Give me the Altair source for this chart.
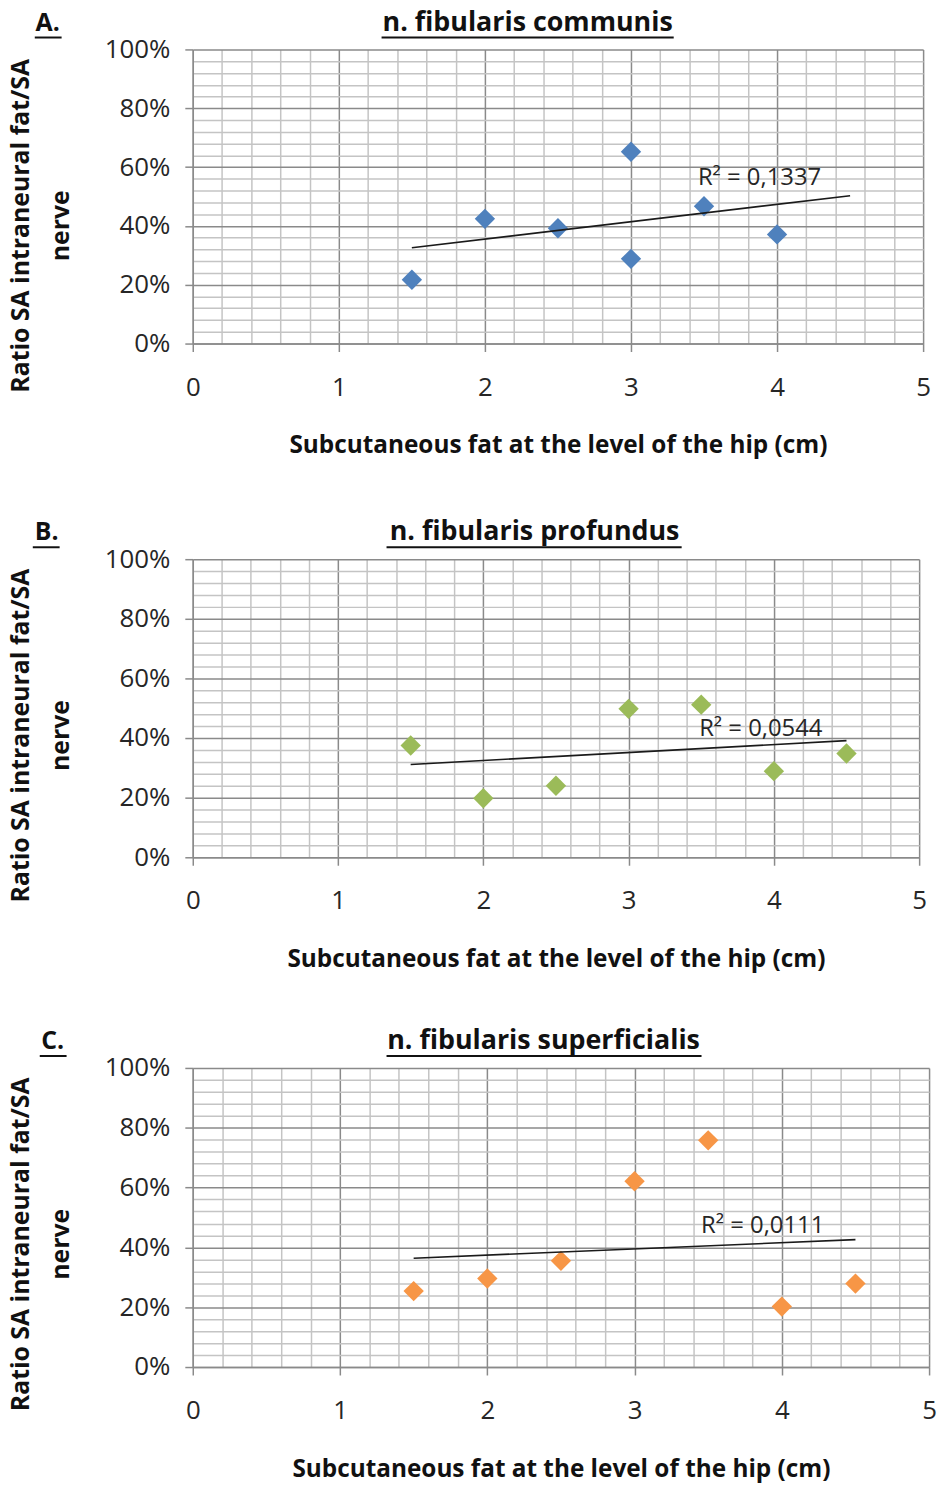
import altair as alt
import pandas as pd

FONT = "Open Sans"

# ---- data ----
titles = ["n. fibularis  communis", "n. fibularis  profundus", "n. fibularis  superficialis"]
letters = ["A.", "B.", "C."]
r2_labels = ["R² = 0,1337", "R² = 0,0544", "R² = 0,0111"]

x_communis = [1.5, 2, 2.5, 3, 3, 3.5, 4]
y_communis = [0.217, 0.424, 0.392, 0.652, 0.288, 0.467, 0.371]

x_profundus = [1.5, 2, 2.5, 3, 3.5, 4, 4.5]
y_profundus = [0.375, 0.198, 0.240, 0.498, 0.512, 0.289, 0.348]

x_superficialis = [1.5, 2, 2.5, 3, 3.5, 4, 4.5]
y_superficialis = [0.254, 0.296, 0.355, 0.621, 0.758, 0.202, 0.279]

colors = ["#4F81BD", "#9BBB59", "#F79646"]

# axis tick / grid positions
x_ticks = [0, 0.2, 0.4, 0.6, 0.8, 1, 1.2, 1.4, 1.6, 1.8, 2, 2.2, 2.4, 2.6, 2.8,
           3, 3.2, 3.4, 3.6, 3.8, 4, 4.2, 4.4, 4.6, 4.8, 5]
y_ticks = [0, 0.04, 0.08, 0.12, 0.16, 0.2, 0.24, 0.28, 0.32, 0.36, 0.4, 0.44, 0.48,
           0.52, 0.56, 0.6, 0.64, 0.68, 0.72, 0.76, 0.8, 0.84, 0.88, 0.92, 0.96, 1.0]

# label anchor positions (data units) for R² annotations
r2_pos = [(3.88, 0.562), (3.91, 0.431), (3.87, 0.473)]

# per-panel layout (pixels, relative to each plot's top-left corner)
widths = [735, 731, 741]
heights = [296, 300, 301]
title_cx = [337, 344, 353]
title_ul = [(190, 484), (195, 492), (195, 512)]
letter_cx = [-146, -147, -141]
letter_ul = [(-159, -132), (-161, -134), (-154, -127)]

X_MAJOR = "abs(datum.value - round(datum.value)) < 0.001"
Y_MAJOR = "abs(datum.value * 5 - round(datum.value * 5)) < 0.001"
MAJOR_COL = "#8a8a8a"
MINOR_COL = "#c4c4c4"
TEXT_COL = "#262626"
TITLE_COL = "#111111"


def panel(i, xs, ys):
    df = pd.DataFrame({"x": xs, "y": ys})
    x_axis = alt.Axis(
        values=x_ticks,
        tickCount=60,
        labelExpr=f"{X_MAJOR} ? format(datum.value, 'd') : ''",
        labelOverlap=False,
        grid=True,
        gridColor={"condition": {"test": X_MAJOR, "value": MAJOR_COL}, "value": MINOR_COL},
        gridWidth=1.5,
        gridOpacity=1,
        tickOpacity={"condition": {"test": X_MAJOR, "value": 1}, "value": 0},
        tickColor=MAJOR_COL,
        tickSize=8,
        tickWidth=1.5,
        domainColor=MAJOR_COL,
        domainWidth=1.5,
        labelFont=FONT,
        labelFontSize=26,
        labelColor=TEXT_COL,
        labelPadding=23,
        labelFlush=False,
        title="Subcutaneous  fat at the level of the  hip (cm)",
        titleFont=FONT,
        titleFontSize=24.5,
        titleFontWeight="bold",
        titleColor=TITLE_COL,
        titlePadding=34,
    )
    y_axis = alt.Axis(
        values=y_ticks,
        tickCount=60,
        labelExpr=f"{Y_MAJOR} ? format(datum.value, '.0%') : ''",
        labelOverlap=False,
        grid=True,
        gridColor={"condition": {"test": Y_MAJOR, "value": MAJOR_COL}, "value": MINOR_COL},
        gridWidth=1.5,
        gridOpacity=1,
        tickOpacity={"condition": {"test": Y_MAJOR, "value": 1}, "value": 0},
        tickColor=MAJOR_COL,
        tickSize=8,
        tickWidth=1.5,
        domainColor=MAJOR_COL,
        domainWidth=1.5,
        labelFont=FONT,
        labelFontSize=26,
        labelColor=TEXT_COL,
        labelPadding=15,
        labelFlush=False,
        title=["Ratio SA intraneural  fat/SA", "nerve"],
        titleFont=FONT,
        titleFontSize=25,
        titleFontWeight="bold",
        titleColor=TITLE_COL,
        titleLineHeight=40,
        titleAngle=-90,
        titleAlign="center",
        titleBaseline="bottom",
        titleX=-160,
        titleY=177,
    )
    xs_scale = alt.Scale(domain=[0, 5], nice=False, zero=False)
    ys_scale = alt.Scale(domain=[0, 1], nice=False)

    pts = alt.Chart(df).mark_point(
        shape="diamond", filled=True, size=420, opacity=1, color=colors[i]
    ).encode(
        x=alt.X("x:Q", scale=xs_scale, axis=x_axis),
        y=alt.Y("y:Q", scale=ys_scale, axis=y_axis),
    )
    trend = alt.Chart(df).transform_regression(
        "x", "y", extent=[1.5, 4.5]
    ).mark_line(color="#1a1a1a", strokeWidth=1.6).encode(
        x="x:Q", y="y:Q"
    )
    r2 = alt.Chart(pd.DataFrame({"t": [r2_labels[i]]})).mark_text(
        font=FONT, fontSize=24, color=TEXT_COL, align="center", baseline="middle"
    ).encode(
        x=alt.datum(r2_pos[i][0]), y=alt.datum(r2_pos[i][1]), text="t:N"
    )
    letter = alt.Chart(pd.DataFrame({"t": [letters[i]]})).mark_text(
        font=FONT, fontSize=25, fontWeight="bold", color=TITLE_COL,
        align="center", baseline="middle"
    ).encode(
        x=alt.value(letter_cx[i]), y=alt.value(-27), text="t:N"
    )
    title = alt.Chart(pd.DataFrame({"t": [titles[i]]})).mark_text(
        font=FONT, fontSize=27, fontWeight="bold", color=TITLE_COL,
        align="center", baseline="middle"
    ).encode(
        x=alt.value(title_cx[i]), y=alt.value(-27), text="t:N"
    )
    title_line = alt.Chart(pd.DataFrame({"t": [titles[i]]})).mark_rule(
        color=TITLE_COL, strokeWidth=2
    ).encode(
        x=alt.value(title_ul[i][0]), x2=alt.value(title_ul[i][1]), y=alt.value(-12)
    )
    letter_line = alt.Chart(pd.DataFrame({"t": [letters[i]]})).mark_rule(
        color=TITLE_COL, strokeWidth=2
    ).encode(
        x=alt.value(letter_ul[i][0]), x2=alt.value(letter_ul[i][1]), y=alt.value(-12)
    )
    return alt.layer(pts, trend, r2, letter, title, title_line, letter_line).properties(
        width=widths[i],
        height=heights[i],
    )


chart = alt.vconcat(
    alt.vconcat(
        panel(0, x_communis, y_communis),
        panel(1, x_profundus, y_profundus),
        spacing=61,
    ),
    panel(2, x_superficialis, y_superficialis),
    spacing=56,
).properties(
    padding={"top": 4, "left": 8, "right": 4, "bottom": 4},
    background="white",
).configure_view(strokeWidth=0)

chart.save("out.html", embed_options={"renderer": "svg", "actions": False})
